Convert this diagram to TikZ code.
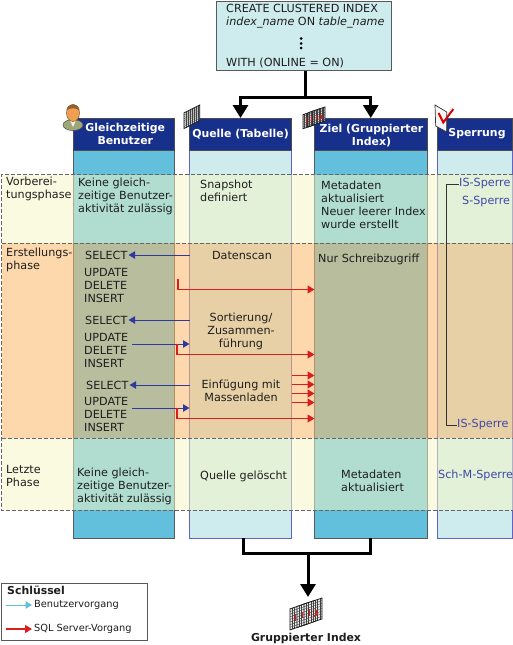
\documentclass[tikz,border=0pt]{standalone}
\usepackage{fontspec}
\setmainfont{DejaVu Sans}
\usetikzlibrary{arrows.meta, calc, positioning}

\definecolor{headblue}{HTML}{17308C}
\definecolor{darkcol}{HTML}{62C0DC}
\definecolor{lightcol}{HTML}{CEEBEE}
\definecolor{oppblue}{HTML}{2E3A9E}
\definecolor{oppred}{HTML}{D81E1E}
\definecolor{lockblue}{HTML}{3F48A8}
\definecolor{bandyellow}{HTML}{F7F7C7}
\definecolor{bandorange}{HTML}{FCBB6E}
\definecolor{inktext}{HTML}{1E1E1E}
\definecolor{coatolive}{HTML}{9FA67A}
\definecolor{faceorange}{HTML}{F0A050}

\newcommand{\txtsize}{\fontsize{11.2}{13}\selectfont}
\newcommand{\boldsize}{\fontsize{10.9}{13}\selectfont\bfseries}

\tikzset{
	colhead/.style={draw=black!70, fill=headblue, minimum height=32pt, inner sep=0pt, outer sep=0pt},
	headtxt/.style={text=white, inner sep=0pt, align=center, font=\boldsize},
	darkbody/.style={draw=black!65, fill=darkcol, line width=1pt, minimum height=388pt, inner sep=0pt, outer sep=0pt},
	lightbody/.style={draw=blue!45!gray!85, fill=lightcol, line width=1pt, minimum height=388pt, inner sep=0pt, outer sep=0pt},
	lbl/.style={inner sep=0pt, text=inktext, font=\txtsize, align=left, anchor=west},
	midlbl/.style={inner sep=0pt, text=inktext, font=\txtsize, align=center},
	locklbl/.style={inner sep=0pt, text=lockblue, font=\txtsize, anchor=west},
	keylbl/.style={inner sep=0pt, text=inktext, font=\fontsize{9.8}{13}\selectfont, anchor=west},
	bigline/.style={line width=3pt, black},
	bigarrow/.style={line width=3pt, black, -{Triangle[length=13pt,width=15pt]}},
	bluearrow/.style={line width=1pt, oppblue, -{Triangle[length=6.5pt,width=7.5pt]}},
	redarrow/.style={line width=1.1pt, oppred, -{Triangle[length=7pt,width=8pt]}},
	bandbox/.style={draw=black!60, dashed, line width=0.7pt, dash pattern=on 4pt off 2pt},
	sheet/.pic={
		\fill[white!85!gray] (0,8) -- (16,0) -- (16,16) -- (0,24) -- cycle;
		\foreach \k in {2,4,...,14} {
			\draw[black!75, line width=0.4pt] (\k,{8-\k/2}) -- (\k,{24-\k/2});
		}
		\foreach \k in {2,4,...,14} {
			\draw[black!75, line width=0.4pt] (0,{8+\k}) -- (16,\k);
		}
		\draw[black!90, line width=0.8pt] (0,8) -- (16,0) -- (16,16) -- (0,24) -- cycle;
	},
	redsheet/.pic={
		\pic[transform shape] {sheet};
		\draw[oppred, line width=1.3pt] (5,11) -- (5,16);
		\draw[oppred, line width=1.3pt] (10,10) -- (12,13) -- (8,16);
	},
	smallstack/.style={xscale=0.75, yscale=0.88, yslant=-0.21},
	bigstack/.style={xscale=1.125, yscale=1.31, yslant=-0.21}
}

\begin{document}
\begin{tikzpicture}[x=1pt, y=-1pt]
	\useasboundingbox (0,0) rectangle (513,645);
	\fill[white] (0,0) rectangle (513,645);

	% Columns, under the phase bands
	\node[darkbody, minimum width=101pt] (usrbody) at (123.5,344) {};
	\node[lightbody, minimum width=102pt] (srcbody) at (240.5,344) {};
	\node[darkbody, minimum width=112.5pt] (tgtbody) at (370.75,344) {};
	\node[lightbody, minimum width=75pt] (lckbody) at (474.5,344) {};

	% Phase bands
	\fill[bandyellow, opacity=0.53] (1.5,174.5) rectangle (513,243);
	\fill[bandorange, opacity=0.56] (1.5,243) rectangle (513,438);
	\fill[bandyellow, opacity=0.53] (1.5,438) rectangle (513,510);
	\draw[bandbox] (513,174.5) -- (1.5,174.5) -- (1.5,510) -- (513,510);
	\draw[bandbox] (1.5,243) -- (513,243);
	\draw[bandbox] (1.5,438) -- (513,438);

	% Column headers
	\node[colhead, minimum width=101pt] (usrhead) at (123.5,134) {};
	\node[colhead, minimum width=102pt] (srchead) at (240.5,134) {};
	\node[colhead, minimum width=112.5pt] (tgthead) at (370.75,134) {};
	\node[colhead, minimum width=75pt] (lckhead) at (474.5,134) {};
	\node[headtxt] (usrname) at (125.3,133.5) {Gleichzeitige\\Benutzer};
	\node[headtxt] (srcname) at (240.5,134) {Quelle (Tabelle)};
	\node[headtxt] (tgtname) at (371.5,135.5) {Ziel (Gruppierter\\Index)};
	\node[headtxt] (lckname) at (477,134) {Sperrung};

	% Statement box
	\node[draw=black!65, fill=lightcol, line width=1pt, minimum width=174.5pt, minimum height=69pt, inner sep=0pt] (createbox) at (303.75,35.5) {};
	\node[lbl] (createtxt) at (226,16.5) {CREATE CLUSTERED INDEX\\\textit{index\_name} ON \textit{table\_name}};
	\foreach \y in {38.5,43.5,48} {
		\fill[black] (301,\y) circle (1.5pt);
	}
	\node[lbl] (withtxt) at (226,63) {WITH (ONLINE = ON)};

	% Arrows into and out of the columns
	\coordinate (topjoin) at (305,97);
	\draw[bigline] (createbox.south -| topjoin) -- (topjoin);
	\draw[bigarrow] (topjoin) -| (srchead.north);
	\draw[bigarrow] (topjoin) -| (tgthead.north);

	\coordinate (srcout) at (243,538);
	\coordinate (botjoin) at (308,553.5);
	\coordinate (gridin) at (308,597);
	\draw[bigline] (srcout) |- (botjoin) -| (tgtbody.south);
	\draw[bigarrow] (botjoin) -- (gridin);

	% Phase names
	\node[lbl] (prepname) at (6,188.5) {Vorberei-\\tungsphase};
	\node[lbl] (buildname) at (6,259.5) {Erstellungs-\\phase};
	\node[lbl] (finalname) at (6,475.5) {Letzte\\Phase};

	% Concurrent users
	\node[lbl] (usrprep) at (78,196) {Keine gleich-\\zeitige Benutzer-\\aktivität zulässig};
	\node[lbl] (usrfinal) at (77,486) {Keine gleich-\\zeitige Benutzer-\\aktivität zulässig};
	\node[lbl] (sel1) at (85,255) {SELECT};
	\node[lbl] (upd1) at (84,285) {UPDATE\\DELETE\\INSERT};
	\node[lbl] (sel2) at (85,320) {SELECT};
	\node[lbl] (upd2) at (84,350) {UPDATE\\DELETE\\INSERT};
	\node[lbl] (sel3) at (86,385) {SELECT};
	\node[lbl] (upd3) at (84,414) {UPDATE\\DELETE\\INSERT};

	% Source
	\node[lbl] (srcprep) at (200,190.5) {Snapshot\\definiert};
	\node[midlbl] (scantxt) at (242,255) {Datenscan};
	\node[midlbl] (sorttxt) at (241,331) {Sortierung/\\Zusammen-\\führung};
	\node[midlbl] (loadtxt) at (241,390.5) {Einfügung mit\\Massenladen};
	\node[lbl] (srcfinal) at (200,476) {Quelle gelöscht};

	% Target
	\node[lbl] (tgtprep) at (321,205) {Metadaten\\aktualisiert\\Neuer leerer Index\\wurde erstellt};
	\node[lbl] (tgtwrite) at (318,259) {Nur Schreibzugriff};
	\node[lbl] (tgtfinal) at (341,481) {Metadaten\\aktualisiert};

	% Locks
	\node[locklbl] (lockis) at (459,184) {IS-Sperre};
	\node[locklbl] (locks) at (462,202) {S-Sperre};
	\node[locklbl] (lockisend) at (457,425) {IS-Sperre};
	\node[locklbl] (lockschm) at (438,475) {Sch-M-Sperre};
	\coordinate (lockrail) at (446.5,300);
	\draw[black!80, line width=0.8pt] (lockis.west) -| (lockrail) |- (lockisend.west);

	% Operations
	\draw[bluearrow] (srcbody.west |- sel1) -- ([xshift=1pt]sel1.east);
	\draw[bluearrow] (srcbody.west |- sel2) -- ([xshift=1pt]sel2.east);
	\draw[bluearrow] (srcbody.west |- sel3) -- ([xshift=1pt]sel3.east);

	\coordinate (updout2) at (132,344);
	\coordinate (updout3) at (132,408);
	\draw[bluearrow] (updout2) -- (srcbody.west |- updout2);
	\draw[bluearrow] (updout3) -- (srcbody.west |- updout3);

	\coordinate (redout1) at (178,279);
	\coordinate (redout2) at (177,344);
	\coordinate (redout3) at (177,408);
	\draw[redarrow] (redout1) |- (tgtbody.west |- 0,289.5);
	\draw[redarrow] (redout2) |- (tgtbody.west |- 0,354.5);
	\draw[redarrow] (redout3) |- (tgtbody.west |- 0,418.5);
	\foreach \y in {375.5,384.5,393.5,402.5} {
		\draw[redarrow] (srcbody.east |- 0,\y) -- (tgtbody.west |- 0,\y);
	}

	% Icons on the headers
	\fill[coatolive, draw=black!70, line width=0.5pt] (73,125) ellipse (10pt and 5.5pt);
	\fill[white!90!olive] (70,120.5) -- (76,120.5) -- (73,127) -- cycle;
	\fill[faceorange, draw=brown!70!black, line width=0.5pt] (73,113) ellipse (6.5pt and 8.5pt);
	\fill[brown!75!black] (66.6,110.5) .. controls (66.6,102.5) and (79.4,102.5) .. (79.4,110.5) .. controls (76,107.5) and (70,107.5) .. (66.6,110.5);

	\pic[scale=0.98] at (184,105) {sheet};
	\pic[smallstack] at (303,107.6) {redsheet};
	\pic[smallstack] at (308,105.8) {redsheet};
	\pic[smallstack] at (313,104) {redsheet};

	\fill[white!92!gray, draw=black!80, line width=0.7pt] (435,105) -- (446.7,112) -- (446.7,132) -- (435.7,126) -- cycle;
	\draw[red!85!black, line width=2pt] (438.5,113) -- (443.3,122.5) -- (453.3,109);

	% Output
	\pic[bigstack] at (290,598.4) {redsheet};
	\pic[bigstack] at (297,596) {redsheet};
	\pic[bigstack] at (304,593.6) {redsheet};
	\node[midlbl, font=\boldsize] (outname) at (306,638) {Gruppierter Index};

	% Key
	\node[draw=black!65, fill=white, line width=1pt, minimum width=145.5pt, minimum height=57pt, inner sep=0pt] (keybox) at (74.25,611.5) {};
	\node[lbl, font=\boldsize] (keyname) at (7,590) {Schlüssel};
	\node[keylbl] (keyuser) at (34,605) {Benutzervorgang};
	\node[keylbl] (keysql) at (34,629) {SQL Server-Vorgang};
	\coordinate (keyuserin) at (6,605);
	\coordinate (keysqlin) at (6,629);
	\draw[bluearrow, darkcol, shorten >=2pt] (keyuserin) -- (keyuser.west);
	\draw[redarrow, shorten >=2pt] (keysqlin) -- (keysql.west);
\end{tikzpicture}
\end{document}
